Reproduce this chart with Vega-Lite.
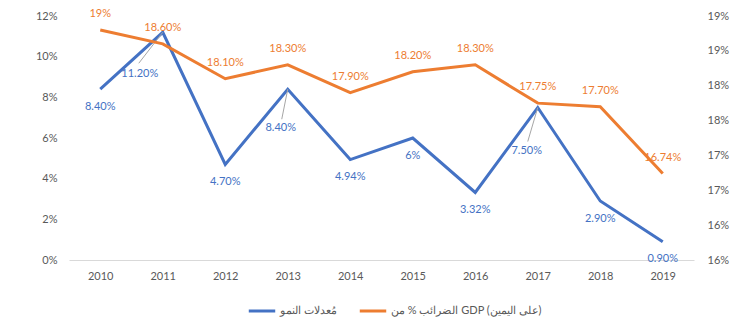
{
  "$schema": "https://vega.github.io/schema/vega-lite/v6.json",
  "width": 625,
  "height": 244,
  "autosize": {"type": "none"},
  "padding": {"left": 69, "top": 16, "right": 62, "bottom": 69},
  "background": "white",
  "config": {
    "font": "Lato",
    "view": {"stroke": null},
    "axis": {"labelFont": "Lato", "labelColor": "#595959", "labelFontSize": 11, "grid": false, "ticks": false, "domain": false, "title": null},
    "text": {"font": "Lato", "fontSize": 11}
  },
  "data": {
    "values": [
      {"year": 2010, "key": "g", "series": "مُعدلات النمو", "value": 8.4, "label": "8.40%"},
      {"year": 2011, "key": "g", "series": "مُعدلات النمو", "value": 11.2, "label": "11.20%"},
      {"year": 2012, "key": "g", "series": "مُعدلات النمو", "value": 4.7, "label": "4.70%"},
      {"year": 2013, "key": "g", "series": "مُعدلات النمو", "value": 8.4, "label": "8.40%"},
      {"year": 2014, "key": "g", "series": "مُعدلات النمو", "value": 4.94, "label": "4.94%"},
      {"year": 2015, "key": "g", "series": "مُعدلات النمو", "value": 6.0, "label": "6%"},
      {"year": 2016, "key": "g", "series": "مُعدلات النمو", "value": 3.32, "label": "3.32%"},
      {"year": 2017, "key": "g", "series": "مُعدلات النمو", "value": 7.5, "label": "7.50%"},
      {"year": 2018, "key": "g", "series": "مُعدلات النمو", "value": 2.9, "label": "2.90%"},
      {"year": 2019, "key": "g", "series": "مُعدلات النمو", "value": 0.9, "label": "0.90%"},
      {"year": 2010, "key": "t", "series": "الضرائب % من GDP (على اليمين)", "value": 18.8, "label": "19%"},
      {"year": 2011, "key": "t", "series": "الضرائب % من GDP (على اليمين)", "value": 18.6, "label": "18.60%"},
      {"year": 2012, "key": "t", "series": "الضرائب % من GDP (على اليمين)", "value": 18.1, "label": "18.10%"},
      {"year": 2013, "key": "t", "series": "الضرائب % من GDP (على اليمين)", "value": 18.3, "label": "18.30%"},
      {"year": 2014, "key": "t", "series": "الضرائب % من GDP (على اليمين)", "value": 17.9, "label": "17.90%"},
      {"year": 2015, "key": "t", "series": "الضرائب % من GDP (على اليمين)", "value": 18.2, "label": "18.20%"},
      {"year": 2016, "key": "t", "series": "الضرائب % من GDP (على اليمين)", "value": 18.3, "label": "18.30%"},
      {"year": 2017, "key": "t", "series": "الضرائب % من GDP (على اليمين)", "value": 17.75, "label": "17.75%"},
      {"year": 2018, "key": "t", "series": "الضرائب % من GDP (على اليمين)", "value": 17.7, "label": "17.70%"},
      {"year": 2019, "key": "t", "series": "الضرائب % من GDP (على اليمين)", "value": 16.74, "label": "16.74%"}
    ]
  },
  "encoding": {
    "x": {
      "field": "year", "type": "ordinal",
      "scale": {"type": "point", "padding": 0.5},
      "axis": {"labelAngle": 0, "domain": true, "domainColor": "#D9D9D9", "domainWidth": 1, "labelPadding": 10}
    }
  },
  "layer": [
    {
      "transform": [{"filter": "datum.key === 'g'"}],
      "encoding": {
        "y": {
          "field": "value", "type": "quantitative",
          "scale": {"domain": [0, 12], "nice": false, "zero": false},
          "axis": {"orient": "left", "values": [0, 2, 4, 6, 8, 10, 12], "labelExpr": "datum.value + '%'", "labelPadding": 12}
        }
      },
      "layer": [
        {
          "mark": {"type": "line", "strokeWidth": 3, "strokeJoin": "miter"},
          "encoding": {
            "color": {
              "field": "series", "type": "nominal",
              "scale": {"domain": ["مُعدلات النمو", "الضرائب % من GDP (على اليمين)"], "range": ["#4472C4", "#ED7D31"]},
              "legend": {
                "orient": "none", "legendX": 178, "legendY": 280, "direction": "horizontal",
                "title": null, "symbolType": "stroke", "symbolStrokeWidth": 3, "symbolSize": 700,
                "labelFont": "Lato", "labelFontSize": 11, "labelColor": "#595959", "columnPadding": 16, "labelOffset": 3
              }
            }
          }
        },
        {
          "transform": [{"filter": "datum.year === 2011"}],
          "mark": {"type": "rule", "color": "#A6A6A6", "strokeWidth": 1, "x2Offset": -24, "y2Offset": 31},
          "encoding": {"x2": {"field": "year"}, "y2": {"field": "value"}}
        },
        {
          "transform": [{"filter": "datum.year === 2013"}],
          "mark": {"type": "rule", "color": "#A6A6A6", "strokeWidth": 1, "x2Offset": -6, "y2Offset": 30},
          "encoding": {"x2": {"field": "year"}, "y2": {"field": "value"}}
        },
        {
          "transform": [{"filter": "datum.year === 2017"}],
          "mark": {"type": "rule", "color": "#A6A6A6", "strokeWidth": 1, "x2Offset": -10, "y2Offset": 34},
          "encoding": {"x2": {"field": "year"}, "y2": {"field": "value"}}
        },
        {
          "transform": [{"filter": "datum.year !== 2011 && datum.year !== 2013 && datum.year !== 2017"}],
          "mark": {"type": "text", "color": "#4472C4", "dy": 17.5, "baseline": "middle", "align": "center"},
          "encoding": {"text": {"field": "label"}}
        },
        {
          "transform": [{"filter": "datum.year === 2011"}],
          "mark": {"type": "text", "color": "#4472C4", "dx": -23, "dy": 42, "baseline": "middle", "align": "center"},
          "encoding": {"text": {"field": "label"}}
        },
        {
          "transform": [{"filter": "datum.year === 2013"}],
          "mark": {"type": "text", "color": "#4472C4", "dx": -7, "dy": 39, "baseline": "middle", "align": "center"},
          "encoding": {"text": {"field": "label"}}
        },
        {
          "transform": [{"filter": "datum.year === 2017"}],
          "mark": {"type": "text", "color": "#4472C4", "dx": -11, "dy": 43, "baseline": "middle", "align": "center"},
          "encoding": {"text": {"field": "label"}}
        }
      ]
    },
    {
      "transform": [{"filter": "datum.key === 't'"}],
      "encoding": {
        "y": {
          "field": "value", "type": "quantitative",
          "scale": {"domain": [15.5, 19], "nice": false, "zero": false},
          "axis": {"orient": "right", "values": [15.5, 16, 16.5, 17, 17.5, 18, 18.5, 19], "labelExpr": "round(datum.value) + '%'", "labelPadding": 13}
        }
      },
      "layer": [
        {
          "mark": {"type": "line", "strokeWidth": 3, "strokeJoin": "miter"},
          "encoding": {"color": {"field": "series", "type": "nominal"}}
        },
        {
          "mark": {"type": "text", "color": "#ED7D31", "dy": -16, "baseline": "middle", "align": "center"},
          "encoding": {"text": {"field": "label"}}
        }
      ]
    }
  ],
  "resolve": {"scale": {"y": "independent"}}
}
